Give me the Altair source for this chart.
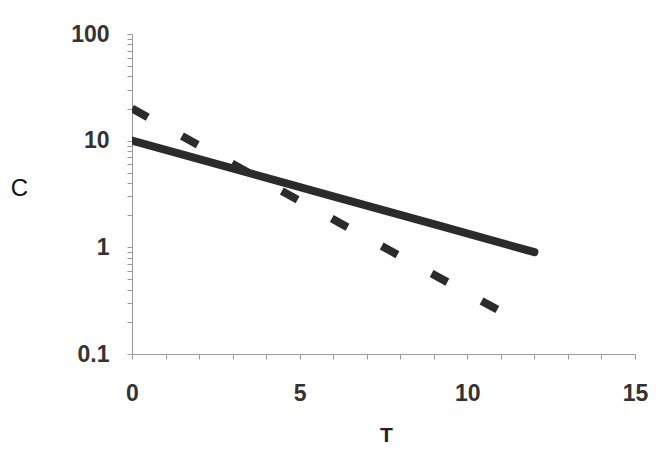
import altair as alt
import pandas as pd

# Values
solid_t = [0, 3, 6, 9, 12]
solid_c = [10, 5.5, 3.0, 1.65, 0.9]
dash_t = [0, 11]
dash_c = [20, 0.25]

x_ticks = list(range(0, 16))
y_ticks = [0.1, 0.2, 0.3, 0.4, 0.5, 0.6, 0.7, 0.8, 0.9,
           1, 2, 3, 4, 5, 6, 7, 8, 9,
           10, 20, 30, 40, 50, 60, 70, 80, 90, 100]

df_solid = pd.DataFrame({"T": solid_t, "C": solid_c})
df_dash = pd.DataFrame({"T": dash_t, "C": dash_c})

FONT = "Liberation Sans"
LINE = "#2b2b2b"
AX = "#9a9a9a"

x_enc = alt.X(
    "T:Q",
    scale=alt.Scale(domain=[0, 15], nice=False, zero=False),
    axis=alt.Axis(
        title="T",
        values=x_ticks,
        labelExpr="datum.value % 5 == 0 ? datum.label : ''",
        grid=False,
        tickSize=5,
        labelPadding=23,
        labelFontSize=23,
        labelFontWeight="bold",
        labelColor="#333333",
        labelFont=FONT,
        titleFont=FONT,
        titleFontSize=21,
        titleFontWeight="bold",
        titleColor="#222222",
        titleX=254,
        titleY=81,
        titleBaseline="middle",
        titleAlign="center",
        domainColor=AX,
        tickColor=AX,
        labelFlush=False,
        labelOverlap=False,
    ),
)

y_enc = alt.Y(
    "C:Q",
    scale=alt.Scale(type="log", domain=[0.1, 100], nice=False),
    axis=alt.Axis(
        title="C",
        values=y_ticks,
        labelExpr="abs(log(datum.value)/log(10) - round(log(datum.value)/log(10))) < 0.001 ? datum.label : ''",
        format="~g",
        grid=False,
        tickSize=5,
        labelPadding=18,
        labelFontSize=23,
        labelFontWeight="bold",
        labelColor="#333333",
        labelFont=FONT,
        titleFont=FONT,
        titleFontSize=24,
        titleFontWeight="normal",
        titleColor="#111111",
        titleAngle=0,
        titleX=-113,
        titleY=154,
        titleAlign="center",
        titleBaseline="middle",
        domainColor=AX,
        tickColor=AX,
        labelOverlap=False,
        labelFlush=False,
    ),
)

solid = alt.Chart(df_solid).mark_line(
    color=LINE, strokeWidth=8, strokeCap="round", clip=True
).encode(x=x_enc, y=y_enc)

dashed = alt.Chart(df_dash).mark_line(
    color=LINE, strokeWidth=8, strokeCap="butt", strokeDash=[18, 39], clip=True
).encode(x=x_enc, y=y_enc)

chart = (
    alt.layer(solid, dashed)
    .properties(
        width=503,
        height=320,
        autosize=alt.AutoSizeParams(type="none"),
        padding={"left": 124, "top": 26, "right": 13, "bottom": 90},
        background="white",
    )
    .configure_view(stroke=None)
)

chart.save("out.html", embed_options={"renderer": "svg", "actions": False})
